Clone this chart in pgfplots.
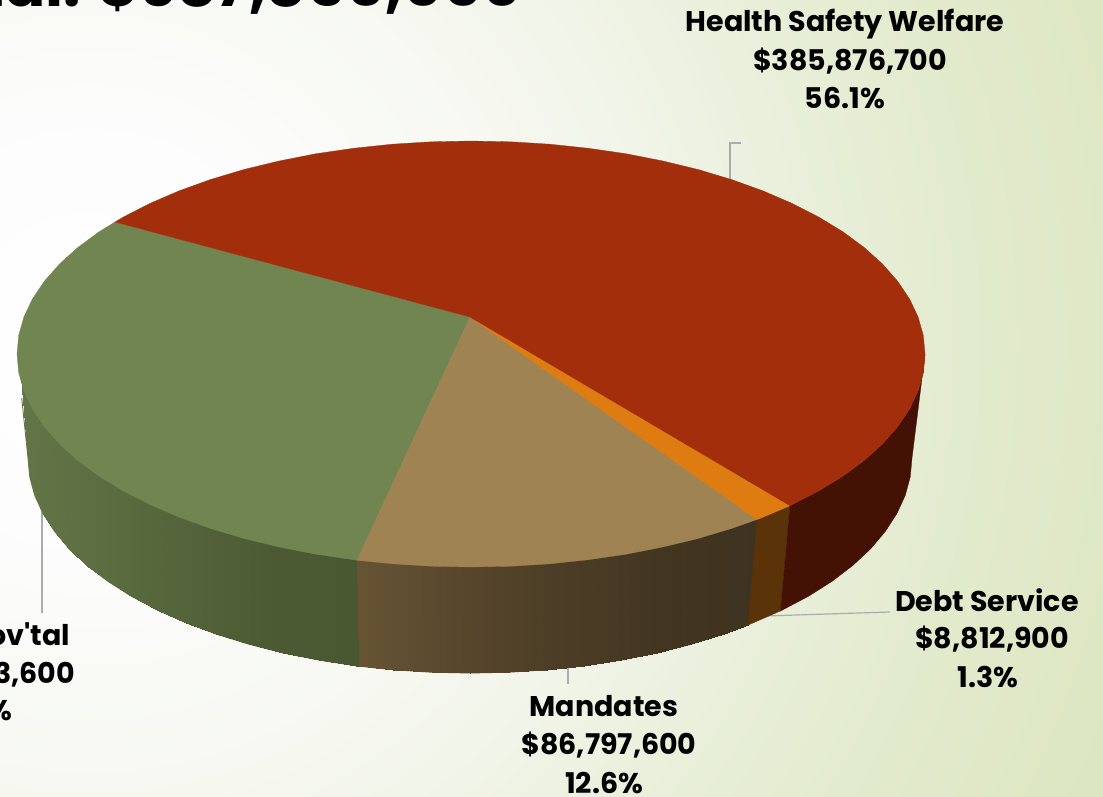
\documentclass[border=0pt]{standalone}
\usepackage{fontspec}
\setmainfont{Poppins}
\usepackage{pgfplots}
\pgfplotsset{compat=1.18}

\definecolor{faceRed}{RGB}{162,46,11}
\definecolor{faceGreen}{RGB}{112,133,80}
\definecolor{faceTan}{RGB}{159,131,82}
\definecolor{faceOrange}{RGB}{222,124,18}
\definecolor{sideRed}{RGB}{68,17,5}
\definecolor{sideOrange}{RGB}{90,52,8}
\definecolor{leader}{RGB}{170,172,172}

% backdrop: white glow fading to pale olive
\pgfdeclareradialshading{backdrop}{\pgfpoint{0bp}{0bp}}{%
  color(0bp)=(white);
  color(4.5bp)=(white!99!black);
  color(9.6bp)=(rgb,255:red,246;green,248;blue,240);
  color(12.1bp)=(rgb,255:red,241;green,244;blue,232);
  color(14.6bp)=(rgb,255:red,234;green,240;blue,220);
  color(18.8bp)=(rgb,255:red,226;green,234;blue,204);
  color(22.9bp)=(rgb,255:red,221;green,230;blue,194);
  color(25bp)=(rgb,255:red,219;green,228;blue,190);
  color(50bp)=(rgb,255:red,219;green,228;blue,190)}

\newcommand{\lbl}[1]{\fontsize{28.5}{28.5}\selectfont\bfseries #1}

\pgfplotsset{
  rimgreen/.style={colormap={rimgreen}{rgb255=(100,118,72) rgb255=(92,109,65) rgb255=(84,99,57) rgb255=(76,90,51) rgb255=(74,88,50)}},
  rimtan/.style={colormap={rimtan}{rgb255=(102,84,52) rgb255=(88,71,45) rgb255=(76,61,38) rgb255=(67,54,32) rgb255=(62,51,34)}},
}

\begin{document}
\begin{tikzpicture}
\useasboundingbox (0,0) rectangle (1103pt,797pt);
\clip (0,0) rectangle (1103pt,797pt);
\shade[shading=backdrop] (90pt,457pt) circle (1200pt);
\begin{axis}[
  scale only axis, width=1103pt, height=797pt,
  xmin=0, xmax=1103, ymin=0, ymax=797, y dir=reverse,
  hide axis, clip=false, anchor=south west, at={(0,0)},
]
% leader lines
\addplot[leader, line width=1.2pt] coordinates {(730,180) (730,143) (741,143)};
\addplot[leader, line width=1.2pt] coordinates {(765,616) (890,612)};
\addplot[leader, line width=1.2pt] coordinates {(568,664) (568,684)};
\addplot[leader, line width=1.2pt] coordinates {(42,500) (42,613)};

% rim of the green slice; the upper row runs a little under the top face
\addplot[surf, shader=interp, mesh/rows=2, point meta=x, point meta rel=per plot, rimgreen,
  point meta min=17, point meta max=359]
table {
19 354
20.7 369.6
25.9 388
34.5 406.1
46.4 423.8
61.5 441
79.8 457.5
101.1 473.2
125.2 487.9
152 501.6
181.2 514.2
212.6 525.5
246 535.5
281.1 544
317.7 551.2
355.5 556.7
357 557.3
28 458
29.7 476.7
34.7 495.3
43.1 513.6
54.7 531.5
69.4 548.9
87.2 565.5
107.9 581.3
131.4 596.2
157.5 610
185.9 622.7
216.5 634.1
249 644.2
283.2 652.9
318.8 660
355.6 665.7
359 666.2
};
% rim of the tan slice
\addplot[surf, shader=interp, mesh/rows=2, point meta=x, point meta rel=per plot, rimtan,
  point meta min=357, point meta max=757]
table {
357 557.3
392.2 560.8
431.4 563.2
471 564
510.6 563.2
549.8 560.8
588.5 556.7
626.3 551.2
662.9 544
698 535.5
731.4 525.5
757 516.5
359 666.2
393.3 669.7
431.5 672.2
470 673
508.5 672.2
546.7 669.7
584.4 665.7
621.2 660
656.8 652.9
691 644.2
723.5 634.1
748.2 625
};
% soft outer edge along the rim
\addplot[mesh, line width=0.9pt, point meta=x, point meta rel=per plot, rimgreen,
  point meta min=17, point meta max=359] coordinates {
(21.7,398) (28,458) (29.7,476.7) (34.7,495.3) (43.1,513.6) (54.7,531.5) (69.4,548.9)
(87.2,565.5) (107.9,581.3) (131.4,596.2) (157.5,610) (185.9,622.7) (216.5,634.1)
(249,644.2) (283.2,652.9) (318.8,660) (355.6,665.7) (359,666.2)};
\addplot[mesh, line width=0.9pt, point meta=x, point meta rel=per plot, rimtan,
  point meta min=357, point meta max=757] coordinates {
(359,666.2) (393.3,669.7) (431.5,672.2) (470,673) (508.5,672.2) (546.7,669.7)
(584.4,665.7) (621.2,660) (656.8,652.9) (691,644.2) (723.5,634.1) (748.2,625)};
% rim of the orange slice
\addplot[fill=sideOrange, draw=sideOrange, line width=0.3pt] coordinates {
(757,519.5) (762.8,517.2) (790,505.7) (780.4,611) (748.2,625)} -- cycle;
% rim of the red slice
\addplot[fill=sideRed, draw=sideRed, line width=0.3pt] coordinates {
(790,505.7) (792,504.6) (818.8,490.9) (842.9,476.2) (864.2,460.5) (882.5,444)
(897.6,426.8) (909.5,409.1) (918.1,391) (923.3,372.6) (925,354)
(912,458) (910.3,476.7) (905.3,495.3) (896.9,513.6) (885.3,531.5) (870.6,548.9)
(852.8,565.5) (832.1,581.3) (808.6,596.2) (782.5,610) (780.4,611)} -- cycle;

% top faces
\addplot[fill=faceGreen, draw=faceGreen, line width=0.3pt] coordinates {
(470,317) (115,222) (99.1,231.8) (77.8,247.5) (59.5,264) (44.4,281.2) (32.5,298.9)
(23.9,317) (18.7,335.4) (17,354) (18.7,372.6) (23.9,391) (32.5,409.1) (44.4,426.8)
(59.5,444) (77.8,460.5) (99.1,476.2) (123.2,490.9) (150,504.6) (179.2,517.2)
(210.6,528.5) (244,538.5) (279.1,547) (315.7,554.2) (353.5,559.7) (357,560.3)} -- cycle;
\addplot[fill=faceTan, draw=faceTan, line width=0.3pt] coordinates {
(470,317) (357,560.3) (392.2,563.8) (431.4,566.2) (471,567) (510.6,566.2) (549.8,563.8)
(588.5,559.7) (626.3,554.2) (662.9,547) (698,538.5) (731.4,528.5) (757,519.5)} -- cycle;
\addplot[fill=faceOrange, draw=faceOrange, line width=0.3pt] coordinates {
(470,317) (757,519.5) (762.8,517.2) (790,505.7)} -- cycle;
\addplot[fill=faceRed, draw=faceRed, line width=0.3pt] coordinates {
(470,317) (790,505.7) (792,504.6) (818.8,490.9) (842.9,476.2) (864.2,460.5) (882.5,444)
(897.6,426.8) (909.5,409.1) (918.1,391) (923.3,372.6) (925,354) (923.3,335.4) (918.1,317)
(909.5,298.9) (897.6,281.2) (882.5,264) (864.2,247.5) (842.9,231.8) (818.8,217.1)
(792,203.4) (762.8,190.8) (731.4,179.5) (698,169.5) (662.9,161) (626.3,153.8)
(588.5,148.3) (549.8,144.2) (510.6,141.8) (471,141) (431.4,141.8) (392.2,144.2)
(353.5,148.3) (315.7,153.8) (279.1,161) (244,169.5) (210.6,179.5) (179.2,190.8)
(150,203.4) (123.2,217.1) (115,222)} -- cycle;

% heading
\node[anchor=base east, inner sep=0pt] at (axis cs:523,7)
  {\fontsize{61}{61}\selectfont\bfseries Total: \$687,850,000};

% slice labels
\node[anchor=base, inner sep=0pt] at (axis cs:845,32) {\lbl{Health Safety Welfare}};
\node[anchor=base, inner sep=0pt] at (axis cs:850,71) {\lbl{\$385,876,700}};
\node[anchor=base, inner sep=0pt] at (axis cs:845,109) {\lbl{56.1\%}};

\node[anchor=base, inner sep=0pt] at (axis cs:987,611) {\lbl{Debt Service}};
\node[anchor=base, inner sep=0pt] at (axis cs:992,648) {\lbl{\$8,812,900}};
\node[anchor=base, inner sep=0pt] at (axis cs:988,687) {\lbl{1.3\%}};

\node[anchor=base, inner sep=0pt] at (axis cs:604,716) {\lbl{Mandates}};
\node[anchor=base, inner sep=0pt] at (axis cs:609,754) {\lbl{\$86,797,600}};
\node[anchor=base, inner sep=0pt] at (axis cs:604,793) {\lbl{12.6\%}};

\node[anchor=base east, inner sep=0pt] at (axis cs:70,645) {\lbl{Local Gov\textquotesingle tal}};
\node[anchor=base east, inner sep=0pt] at (axis cs:75,683) {\lbl{\$206,363,600}};
\node[anchor=base east, inner sep=0pt] at (axis cs:12,720) {\lbl{30.0\%}};
\end{axis}
\end{tikzpicture}
\end{document}
